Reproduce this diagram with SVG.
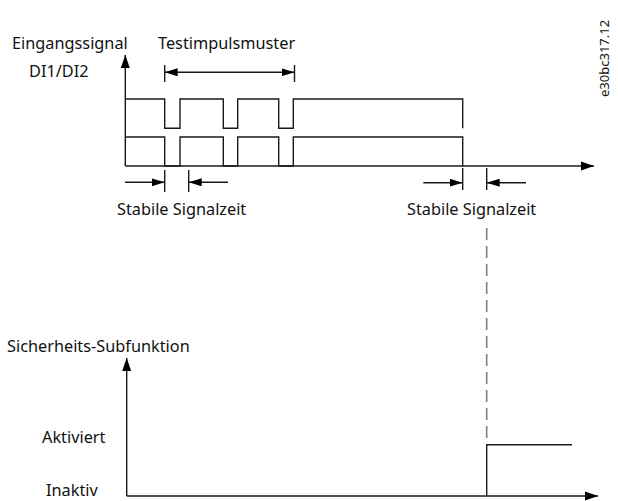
<svg xmlns="http://www.w3.org/2000/svg" width="618" height="501" viewBox="0 0 618 501">
<style>
text{font-family:"Noto Sans","Open Sans",sans-serif;font-size:16.3px;fill:#111}
.ln{fill:none;stroke:#1a1a1a;stroke-width:1.4}
.ax{fill:none;stroke:#1a1a1a;stroke-width:1.4}
.dash{fill:none;stroke:#808080;stroke-width:1.6;stroke-dasharray:12 6}
</style>
<defs>
<marker id="ah" markerUnits="userSpaceOnUse" markerWidth="14" markerHeight="10" refX="13" refY="5" orient="auto">
<path d="M0,0.5 L13,5 L0,9.5 Z" fill="#000"/>
</marker>
<marker id="as" markerUnits="userSpaceOnUse" markerWidth="14" markerHeight="8" refX="13" refY="4" orient="auto">
<path d="M0,0 L13,4 L0,8 Z" fill="#000"/>
</marker>
</defs>
<g id="labels">
<text x="12" y="49">Eingangssignal</text>
<text x="29" y="77">DI1/DI2</text>
<text x="158" y="49">Testimpulsmuster</text>
<text x="117" y="215">Stabile Signalzeit</text>
<text x="407" y="215">Stabile Signalzeit</text>
<text x="7" y="352">Sicherheits-Subfunktion</text>
<text x="42" y="443">Aktiviert</text>
<text x="46" y="496">Inaktiv</text>
<text transform="translate(609,97) rotate(-90)" style="font-size:13px">e30bc317.12</text>
</g>
<g id="signals">
<path class="ln" d="M125,99 H164.7 V128.3 H180 V99 H223.3 V128.3 H237.7 V99 H278.7 V128.3 H293.3 V99 H462.7 V128.3"/>
<path class="ln" d="M125,137 H164.7 V166 H180 V137 H223.3 V166 H237.7 V137 H278.7 V166 H293.3 V137 H462.7 V166"/>
<path class="ln" d="M486.7,496 V444.7 H572"/>
</g>
<g id="connectors">
<path class="ax" d="M125.3,166 V55" marker-end="url(#ah)"/>
<path class="ax" d="M125.3,166 H594" marker-end="url(#ah)"/>
<path class="ax" d="M126.7,496 V358" marker-end="url(#ah)"/>
<path class="ax" d="M126.7,496 H598" marker-end="url(#ah)"/>
<path class="ln" d="M164.7,65 V82 M294.5,65 V82"/>
<path class="ln" d="M229,72.3 H164.7" marker-end="url(#as)"/>
<path class="ln" d="M229,72.3 H294.5" marker-end="url(#as)"/>
<path class="ln" d="M164.7,170 V192 M188.7,170 V192 M462.7,168 V190 M486.7,168 V190"/>
<path class="ln" d="M125,182.3 H164.7" marker-end="url(#as)"/>
<path class="ln" d="M228,182.3 H188.7" marker-end="url(#as)"/>
<path class="ln" d="M423.3,182.7 H462.7" marker-end="url(#as)"/>
<path class="ln" d="M526,182.7 H486.7" marker-end="url(#as)"/>
<path class="dash" d="M486.7,228 V442"/>
</g>
</svg>
